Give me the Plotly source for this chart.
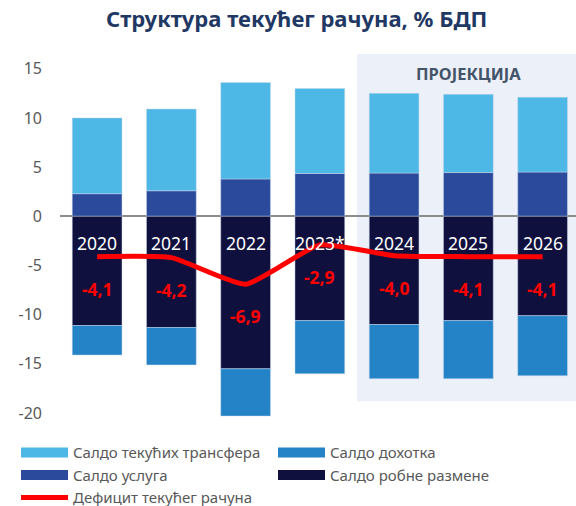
import plotly.graph_objects as go

years = ["2020", "2021", "2022", "2023*", "2024", "2025", "2026"]
transfers = [7.7, 8.3, 9.8, 8.65, 8.1, 7.95, 7.6]
services = [2.3, 2.6, 3.8, 4.35, 4.4, 4.45, 4.5]
goods = [-11.1, -11.3, -15.5, -10.6, -11.0, -10.6, -10.1]
income = [-3.0, -3.8, -4.8, -5.4, -5.5, -5.9, -6.1]
deficit = [-4.1, -4.2, -6.9, -2.9, -4.0, -4.1, -4.1]

name_tr = "Салдо текућих трансфера"
name_inc = "Салдо дохотка"
name_srv = "Салдо услуга"
name_goods = "Салдо робне размене"
name_def = "Дефицит текућег рачуна"

c_tr = "#4DB8E6"
c_inc = "#2383C6"
c_srv = "#2B4A9C"
c_goods = "#10103E"
c_def = "#FF0000"

FONT = "Noto Sans"

fig = go.Figure()
# stacking order: services then transfers (positive), goods then income (negative)
for name, vals, col in [(name_srv, services, c_srv), (name_tr, transfers, c_tr),
                        (name_goods, goods, c_goods), (name_inc, income, c_inc)]:
    fig.add_trace(go.Bar(x=years, y=vals, name=name, marker_color=col,
                         marker_line=dict(width=0.6, color="rgba(200,215,235,0.8)"),
                         showlegend=False, hoverinfo="y"))

fig.add_trace(go.Scatter(x=years, y=deficit, mode="lines", name=name_def,
                         line=dict(color=c_def, width=5, shape="spline", smoothing=0.5),
                         showlegend=False))

# legend entries (wide rectangles like the original), flowing in two columns
legend_items = [(name_tr, c_tr, 10), (name_inc, c_inc, 10), (name_srv, c_srv, 10),
                (name_goods, c_goods, 10), (name_def, c_def, 5)]
for name, col, w in legend_items:
    fig.add_trace(go.Scatter(x=[None], y=[None], mode="lines", name=name,
                             line=dict(color=col, width=w)))

# projection shading
fig.add_shape(type="rect", xref="x", yref="y", x0=3.5, x1=6.45, y0=-18.8, y1=16.5,
              fillcolor="#ECF0F8", line_width=0, layer="below")
fig.add_annotation(x=5.0, y=14.5, xref="x", yref="y", text="<b>ПРОЈЕКЦИЈА</b>",
                   showarrow=False, font=dict(family=FONT, size=16.5, color="#44546A"))

for i, yr in enumerate(years):
    fig.add_annotation(x=i, y=-2.75, text=yr, showarrow=False,
                       font=dict(family=FONT, size=17.5, color="white"))
    fig.add_annotation(x=i, y=deficit[i], yshift=-32,
                       text="<b>" + f"{deficit[i]:.1f}".replace(".", ",") + "</b>",
                       showarrow=False, font=dict(family=FONT, size=17.5, color=c_def))

tickvals = [-20, -15, -10, -5, 0, 5, 10, 15]
fig.update_layout(
    width=576, height=506,
    margin=dict(l=60, r=0, t=54, b=88),
    paper_bgcolor="white", plot_bgcolor="white",
    barmode="relative", bargap=0.33,
    title=dict(text="<b>Структура текућег рачуна, % БДП</b>", x=0.515, xanchor="center",
               xref="container", yref="container",
               y=0.962, yanchor="middle",
               font=dict(family=FONT, size=22, color="#1F3864")),
    xaxis=dict(type="category", range=[-0.5, 6.45], showticklabels=False, showgrid=False,
               zeroline=False, showline=False, fixedrange=True),
    yaxis=dict(range=[-20.5, 16.5], tickvals=tickvals,
               ticktext=[str(v) for v in tickvals], showgrid=False,
               zeroline=True, zerolinecolor="#8C8C8C", zerolinewidth=1.5,
               showline=False, ticks="", ticklabelstandoff=17, automargin=False,
               tickfont=dict(family=FONT, size=16, color="#595959")),
    legend=dict(orientation="h", xref="container", yref="container",
                x=16 / 576, xanchor="left", y=0.138, yanchor="top",
                entrywidth=195, entrywidthmode="pixels", traceorder="normal",
                itemwidth=47,
                font=dict(family=FONT, size=15, color="#595959"),
                bgcolor="rgba(0,0,0,0)", tracegroupgap=0, borderwidth=0),
    showlegend=True,
)

fig.write_html("out.html", config={"displayModeBar": False},
               post_script="document.body.style.margin='0';")
